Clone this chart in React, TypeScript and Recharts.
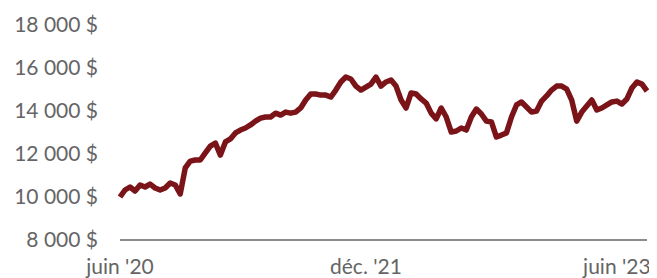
import { LineChart, Line, XAxis, YAxis } from 'recharts';

// valeur du portefeuille, environ une lecture toutes les 1,5 semaine (juin 2020 -> juillet 2023)
const values = [
  10000, 10325, 10465, 10280, 10560, 10465, 10600, 10420, 10325, 10420,
  10650, 10560, 10140, 11350, 11670, 11720, 11720, 12050, 12370, 12510,
  11950, 12560, 12700, 12980, 13115, 13210, 13350, 13530, 13670, 13720,
  13720, 13900, 13810, 13950, 13900, 13950, 14140, 14510, 14790, 14790,
  14740, 14740, 14650, 14975, 15350, 15580, 15490, 15160, 14975, 15115,
  15250, 15580, 15160, 15350, 15440, 15160, 14510, 14140, 14840, 14790,
  14560, 14370, 13900, 13630, 14140, 13720, 13020, 13070, 13210, 13115,
  13720, 14090, 13860, 13530, 13490, 12790, 12880, 12980, 13720, 14280,
  14420, 14185, 13950, 14000, 14460, 14700, 14975, 15160, 15160, 15020,
  14510, 13530, 13950, 14230, 14510, 14045, 14140, 14280, 14420, 14460,
  14325, 14560, 15070, 15350, 15250, 14930,
];

const xTickIndex = [0, 49, 99];
const xTickLabels = ["juin '20", "déc. '21", "juin '23"];
const yTicks = [8000, 10000, 12000, 14000, 16000, 18000];

const data = values.map((v, i) => ({ i, valeur: v }));

const fmtMoney = (v: number) =>
  v.toString().replace(/\B(?=(\d{3})+(?!\d))/g, ' ') + ' $';

const tickStyle = { fill: '#656565', fontSize: 21, fontFamily: 'Lato, sans-serif' };

export default function App() {
  return (
    <LineChart
      width={649}
      height={270}
      data={data}
      margin={{ top: 17, right: 10, bottom: 0, left: 0 }}
    >
      <XAxis
        dataKey="i"
        type="category"
        ticks={xTickIndex}
        tickFormatter={(i: number) => xTickLabels[xTickIndex.indexOf(i)] ?? ''}
        interval={0}
        height={38}
        tickLine={false}
        tickSize={0}
        tickMargin={19}
        axisLine={{ stroke: '#8c8c8c', strokeWidth: 2 }}
        tick={tickStyle}
      />
      <YAxis
        domain={[8000, 18000]}
        ticks={yTicks}
        tickFormatter={fmtMoney}
        width={112}
        axisLine={false}
        tickLine={false}
        tickSize={0}
        tickMargin={22}
        tick={tickStyle}
      />
      <Line
        type="linear"
        dataKey="valeur"
        stroke="#7a1418"
        strokeWidth={5.5}
        strokeLinejoin="round"
        dot={false}
        isAnimationActive={false}
      />
    </LineChart>
  );
}
